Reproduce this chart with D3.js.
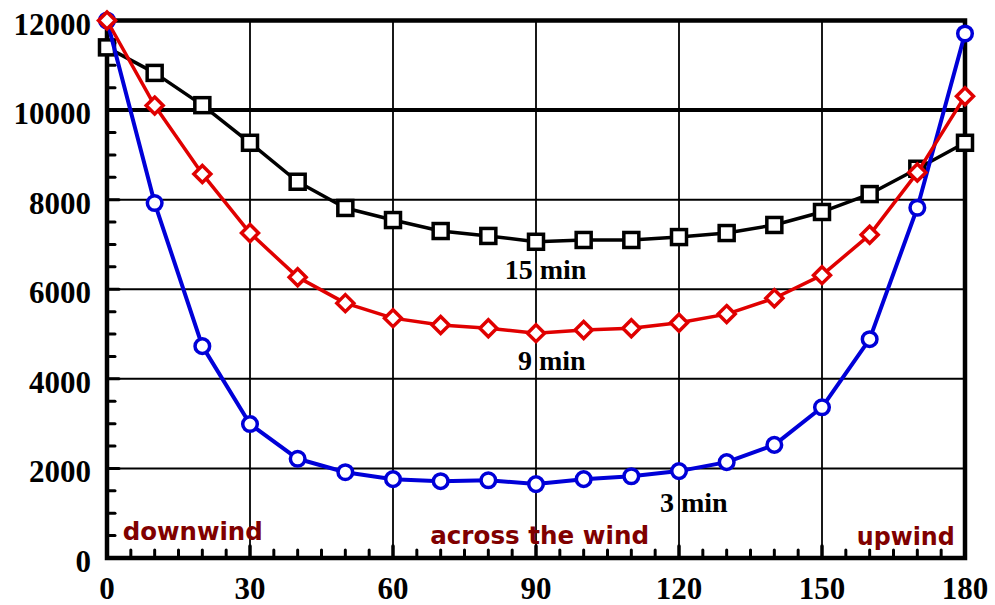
<!DOCTYPE html>
<html>
<head>
<meta charset="utf-8">
<script src="https://cdn.jsdelivr.net/npm/d3@7"></script>
<style>
  html, body { margin: 0; padding: 0; background: #fff; }
  svg { display: block; }
</style>
</head>
<body>
<svg id="chart" width="995" height="605"></svg>
<script>
// ---- data ----
const angles = [0,10,20,30,40,50,60,70,80,90,100,110,120,130,140,150,160,170,180];
const min15 = [11400,10830,10110,9270,8400,7815,7545,7300,7190,7060,7100,7100,7165,7255,7435,7725,8125,8690,9270];
const min9  = [12000,10100,8575,7255,6270,5690,5355,5200,5130,5020,5090,5130,5250,5445,5800,6315,7215,8605,10310];
const min3  = [12000,7925,4730,2990,2215,1915,1760,1715,1735,1650,1760,1825,1940,2140,2525,3365,4885,7820,11710];
const xTicks = [0,30,60,90,120,150,180];
const yTicks = [0,2000,4000,6000,8000,10000,12000];
const seriesLabels = [
  {text: "15 min", x: 92, y: 6228},
  {text: "9 min",  x: 93.3, y: 4196},
  {text: "3 min",  x: 123.1, y: 1021}
];
const windLabels = [
  {text: "downwind", x: 3.3, y: 400, len: 140},
  {text: "across the wind", x: 67.8, y: 310, len: 219},
  {text: "upwind", x: 157.3, y: 290, len: 98}
];

// ---- scales ----
const svg = d3.select("#chart");
const x = d3.scaleLinear().domain([0,180]).range([107,965]);
const y = d3.scaleLinear().domain([0,12000]).range([558,20.5]);

// ---- grid ----
const g = svg.append("g");
g.selectAll("line.vg").data(xTicks.filter(d => d > 0 && d < 180)).join("line")
  .attr("x1", d => x(d)).attr("x2", d => x(d))
  .attr("y1", y(0)).attr("y2", y(12000))
  .attr("stroke", "#000").attr("stroke-width", 1.8);
g.selectAll("line.hg").data(yTicks.filter(d => d > 0 && d < 12000)).join("line")
  .attr("x1", x(0)).attr("x2", x(180))
  .attr("y1", d => y(d)).attr("y2", d => y(d))
  .attr("stroke", "#000").attr("stroke-width", d => d === 10000 ? 4 : 2);

// ---- minor ticks ----
const xMinor = d3.range(5, 180, 5);
g.selectAll("line.xm").data(xMinor).join("line")
  .attr("x1", d => x(d)).attr("x2", d => x(d))
  .attr("y1", y(0)).attr("y2", d => y(0) - (d % 30 === 0 ? 12 : 8))
  .attr("stroke", "#000").attr("stroke-width", d => d % 30 === 0 ? 3.5 : 3)
  .attr("stroke-linecap", "round");
const yMinor = d3.range(500, 12000, 500);
g.selectAll("line.ym").data(yMinor).join("line")
  .attr("x1", x(0)).attr("x2", d => x(0) + (d % 2000 === 0 ? 12 : 8))
  .attr("y1", d => y(d)).attr("y2", d => y(d))
  .attr("stroke", "#000").attr("stroke-width", 3)
  .attr("stroke-linecap", "round");

// ---- frame ----
g.append("rect")
  .attr("x", x(0)).attr("y", y(12000))
  .attr("width", x(180) - x(0)).attr("height", y(0) - y(12000))
  .attr("fill", "none").attr("stroke", "#000").attr("stroke-width", 4.5);

// ---- tick labels ----
const tickFont = "'Liberation Serif', 'Times New Roman', serif";
svg.append("g").selectAll("text").data(xTicks).join("text")
  .attr("x", d => x(d)).attr("y", 598.5)
  .attr("text-anchor", "middle")
  .attr("font-family", tickFont).attr("font-weight", "bold").attr("font-size", 31)
  .text(d => d);
svg.append("g").selectAll("text").data(yTicks).join("text")
  .attr("x", 91).attr("y", d => y(d) + 14)
  .attr("text-anchor", "end")
  .attr("font-family", tickFont).attr("font-weight", "bold").attr("font-size", 31)
  .text(d => d);

// ---- series ----
const line = d3.line().x((d, i) => x(angles[i])).y(d => y(d));

function drawSeries(values, color, width, marker) {
  const s = svg.append("g");
  s.append("path").datum(values)
    .attr("d", line).attr("fill", "none")
    .attr("stroke", color).attr("stroke-width", width)
    .attr("stroke-linejoin", "round");
  const m = s.selectAll(".m").data(values).join("g")
    .attr("transform", (d, i) => `translate(${x(angles[i])},${y(d)})`);
  if (marker === "square") {
    m.append("rect").attr("x", -7.5).attr("y", -7.5).attr("width", 15).attr("height", 15)
      .attr("fill", "#fff").attr("stroke", color).attr("stroke-width", 3.5);
  } else if (marker === "diamond") {
    m.append("path").attr("d", "M0,-8.5L8.5,0L0,8.5L-8.5,0Z")
      .attr("fill", "#fff").attr("stroke", color).attr("stroke-width", 3.5)
      .attr("stroke-linejoin", "miter");
  } else {
    m.append("circle").attr("r", 7.3)
      .attr("fill", "#fff").attr("stroke", color).attr("stroke-width", 3.5);
  }
}
drawSeries(min15, "#000", 3.5, "square");
drawSeries(min3, "#0000d8", 4, "circle");
drawSeries(min9, "#e00000", 3.5, "diamond");

// ---- annotations ----
svg.append("g").selectAll("text").data(seriesLabels).join("text")
  .attr("x", d => x(d.x)).attr("y", d => y(d.y))
  .attr("text-anchor", "middle")
  .attr("font-family", tickFont).attr("font-weight", "bold").attr("font-size", 28)
  .text(d => d.text);

svg.append("g").selectAll("text").data(windLabels).join("text")
  .attr("x", d => x(d.x)).attr("y", d => y(d.y))
  .attr("font-family", "'DejaVu Sans', Verdana, sans-serif").attr("font-weight", "bold")
  .attr("font-size", 24).attr("fill", "#800000")
  .attr("textLength", d => d.len).attr("lengthAdjust", "spacingAndGlyphs")
  .text(d => d.text);
</script>
</body>
</html>
